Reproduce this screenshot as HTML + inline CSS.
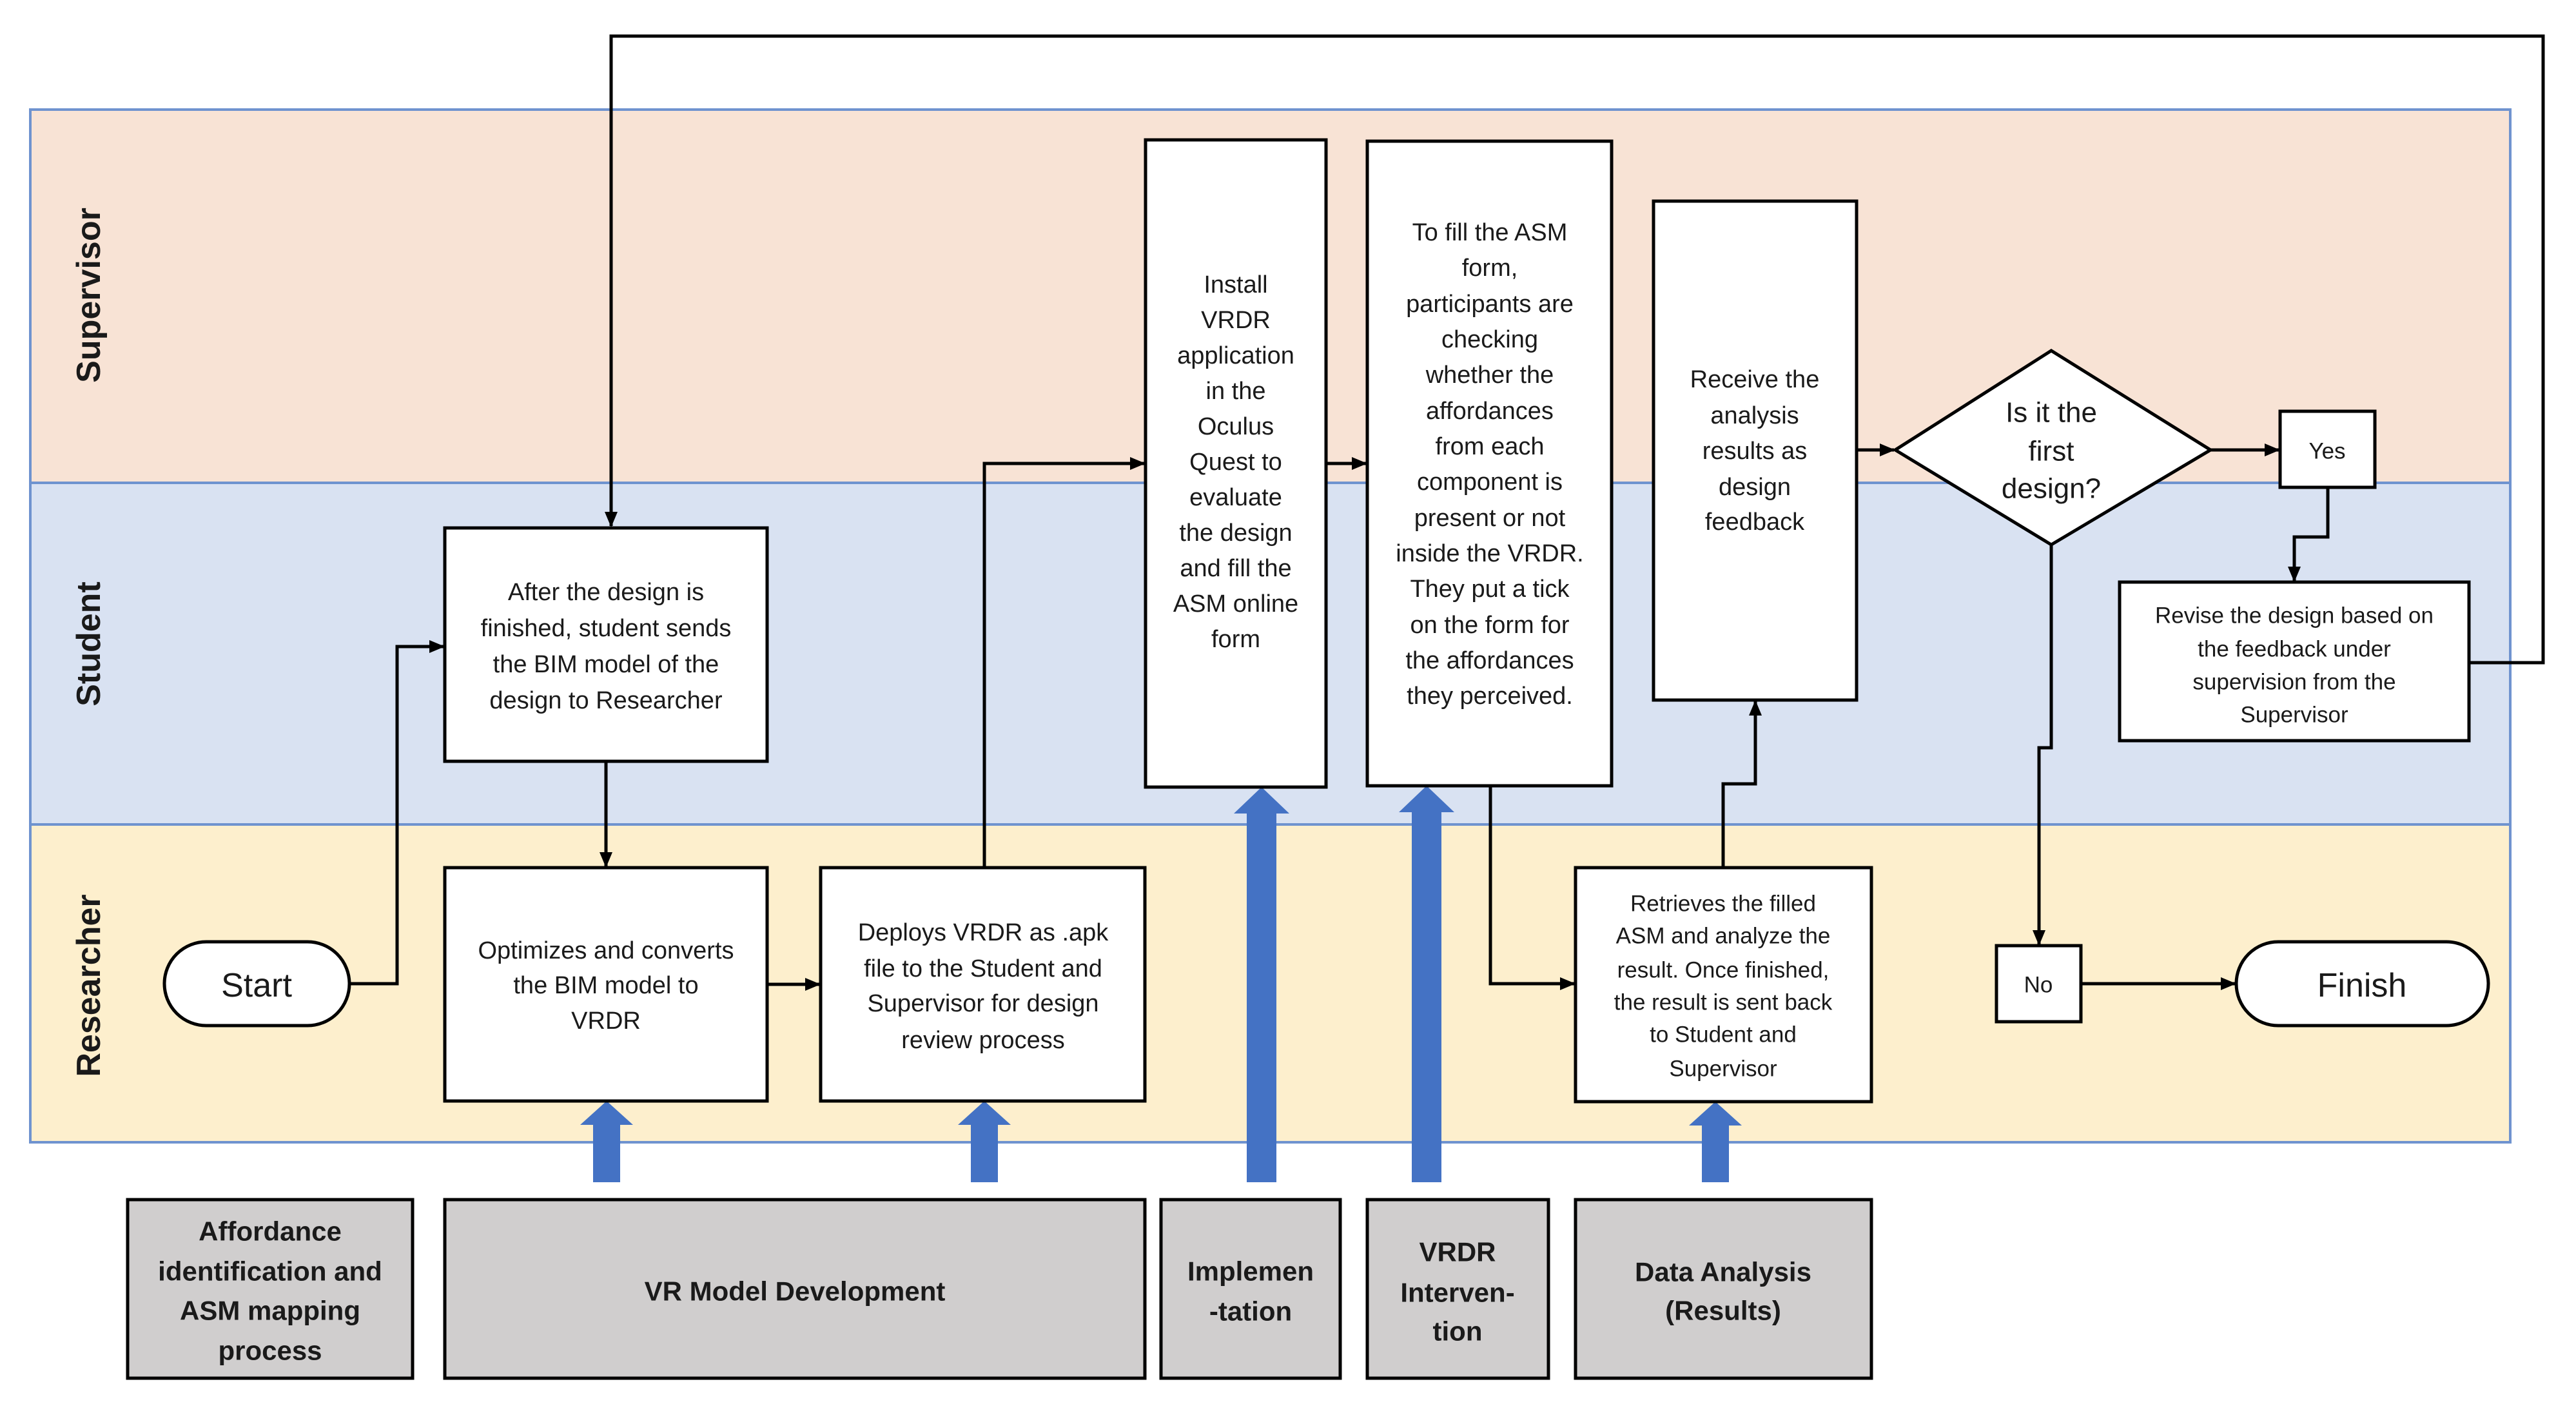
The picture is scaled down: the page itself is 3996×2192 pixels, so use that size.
<!DOCTYPE html>
<html><head><meta charset="utf-8"><style>
html,body{margin:0;padding:0;background:#fff;}
svg{display:block;}
text{font-family:"Liberation Sans",sans-serif;fill:#1a1a1a;dominant-baseline:central;text-anchor:middle;}
.t{font-size:38px;}
.s{font-size:35px;}
.g{font-size:42px;font-weight:bold;}
.lane{font-size:52px;font-weight:bold;}
</style></head><body>
<svg width="3996" height="2192" viewBox="0 0 3996 2192" xmlns="http://www.w3.org/2000/svg">
<defs>
<marker id="a" markerWidth="10" markerHeight="10" refX="9" refY="5" orient="auto" markerUnits="userSpaceOnUse" viewBox="0 0 10 10"><path d="M0,0 L10,5 L0,10 z" fill="#000"/></marker>
<marker id="b" markerWidth="24" markerHeight="24" refX="22" refY="12" orient="auto" markerUnits="userSpaceOnUse" viewBox="0 0 24 24"><path d="M0,2 L24,12 L0,22 z" fill="#000"/></marker>
</defs>
<!-- lanes -->
<rect x="47" y="170" width="3847" height="579" fill="#F8E3D5" stroke="#6F93CF" stroke-width="4"/>
<rect x="47" y="749" width="3847" height="530" fill="#D9E2F2" stroke="#6F93CF" stroke-width="4"/>
<rect x="47" y="1279" width="3847" height="493" fill="#FDEFCD" stroke="#6F93CF" stroke-width="4"/>
<text class="lane" transform="translate(138,458) rotate(-90)">Supervisor</text>
<text class="lane" transform="translate(138,999) rotate(-90)">Student</text>
<text class="lane" transform="translate(138,1529) rotate(-90)">Researcher</text>

<!-- connectors -->
<g fill="none" stroke="#000" stroke-width="5">
<path d="M3830,1028 H3945 V56 H948 V816" marker-end="url(#b)"/>
<path d="M542,1526 H616 V1003 H688" marker-end="url(#b)"/>
<path d="M940,1181 V1344" marker-end="url(#b)"/>
<path d="M1190,1527 H1271" marker-end="url(#b)"/>
<path d="M1527,1346 V719 H1775" marker-end="url(#b)"/>
<path d="M2057,719 H2119" marker-end="url(#b)"/>
<path d="M2312,1219 V1526 H2442" marker-end="url(#b)"/>
<path d="M2673,1346 V1216 H2723 V1088" marker-end="url(#b)"/>
<path d="M2880,698 H2938" marker-end="url(#b)"/>
<path d="M3429,698 H3535" marker-end="url(#b)"/>
<path d="M3611,756 V833 H3559 V901" marker-end="url(#b)"/>
<path d="M3182,845 V1160 H3163 V1465" marker-end="url(#b)"/>
<path d="M3228,1526 H3467" marker-end="url(#b)"/>
</g>

<!-- blue arrows -->
<g fill="#4472C4">
<path d="M920,1834 V1745 H900 L941,1708 L982,1745 H962 V1834 z"/>
<path d="M1506,1834 V1745 H1486 L1527,1708 L1568,1745 H1548 V1834 z"/>
<path d="M1934,1834 V1262 H1914 L1957,1221 L2000,1262 H1980 V1834 z"/>
<path d="M2190,1834 V1260 H2170 L2213,1219 L2256,1260 H2236 V1834 z"/>
<path d="M2640,1834 V1746 H2620 L2661,1709 L2702,1746 H2682 V1834 z"/>
</g>

<!-- boxes -->
<g fill="#fff" stroke="#000" stroke-width="5">
<rect x="690" y="819" width="500" height="362"/>
<rect x="690" y="1346" width="500" height="362"/>
<rect x="1273" y="1346" width="503" height="362"/>
<rect x="1777" y="217" width="280" height="1004"/>
<rect x="2121" y="219" width="379" height="1000"/>
<rect x="2565" y="312" width="315" height="774"/>
<path d="M3182,544 L3429,698 L3182,845 L2940,698 z"/>
<rect x="3537" y="638" width="147" height="118"/>
<rect x="3288" y="903" width="542" height="246"/>
<rect x="2444" y="1346" width="459" height="363"/>
<rect x="3097" y="1467" width="131" height="118"/>
<rect x="255" y="1461" width="287" height="130" rx="65"/>
<rect x="3469" y="1461" width="391" height="130" rx="65"/>
</g>
<g fill="#D0CECE" stroke="#000" stroke-width="5">
<rect x="198" y="1861" width="442" height="277"/>
<rect x="690" y="1861" width="1086" height="277"/>
<rect x="1801" y="1861" width="278" height="277"/>
<rect x="2121" y="1861" width="281" height="277"/>
<rect x="2444" y="1861" width="459" height="277"/>
</g>

<!-- texts -->
<g class="t">
<text x="940" y="919">After the design is</text>
<text x="940" y="975">finished, student sends</text>
<text x="940" y="1031">the BIM model of the</text>
<text x="940" y="1087">design to Researcher</text>

<text x="940" y="1475">Optimizes and converts</text>
<text x="940" y="1529">the BIM model to</text>
<text x="940" y="1584">VRDR</text>

<text x="1525" y="1447">Deploys VRDR as .apk</text>
<text x="1525" y="1503">file to the Student and</text>
<text x="1525" y="1557">Supervisor for design</text>
<text x="1525" y="1614">review process</text>

<text x="1917" y="442">Install</text>
<text x="1917" y="497">VRDR</text>
<text x="1917" y="552">application</text>
<text x="1917" y="607">in the</text>
<text x="1917" y="662">Oculus</text>
<text x="1917" y="717">Quest to</text>
<text x="1917" y="772">evaluate</text>
<text x="1917" y="827">the design</text>
<text x="1917" y="882">and fill the</text>
<text x="1917" y="937">ASM online</text>
<text x="1917" y="992">form</text>

<text x="2311" y="361">To fill the ASM</text>
<text x="2311" y="416">form,</text>
<text x="2311" y="472">participants are</text>
<text x="2311" y="527">checking</text>
<text x="2311" y="582">whether the</text>
<text x="2311" y="638">affordances</text>
<text x="2311" y="693">from each</text>
<text x="2311" y="748">component is</text>
<text x="2311" y="804">present or not</text>
<text x="2311" y="859">inside the VRDR.</text>
<text x="2311" y="914">They put a tick</text>
<text x="2311" y="970">on the form for</text>
<text x="2311" y="1025">the affordances</text>
<text x="2311" y="1080">they perceived.</text>

<text x="2722" y="589">Receive the</text>
<text x="2722" y="645">analysis</text>
<text x="2722" y="700">results as</text>
<text x="2722" y="756">design</text>
<text x="2722" y="810">feedback</text>
</g>
<g style="font-size:44px">
<text x="3182" y="640">Is it the</text>
<text x="3182" y="700">first</text>
<text x="3182" y="758">design?</text>
</g>
<g class="s">
<text x="3610" y="700">Yes</text>
<text x="3162" y="1528">No</text>
<text x="3559" y="955">Revise the design based on</text>
<text x="3559" y="1007">the feedback under</text>
<text x="3559" y="1058">supervision from the</text>
<text x="3559" y="1109">Supervisor</text>
<text x="2673" y="1402">Retrieves the filled</text>
<text x="2673" y="1452">ASM and analyze the</text>
<text x="2673" y="1505">result. Once finished,</text>
<text x="2673" y="1555">the result is sent back</text>
<text x="2673" y="1605">to Student and</text>
<text x="2673" y="1658">Supervisor</text>
</g>
<g style="font-size:52px">
<text x="398" y="1529">Start</text>
<text x="3664" y="1529">Finish</text>
</g>
<g class="g">
<text x="419" y="1910">Affordance</text>
<text x="419" y="1972">identification and</text>
<text x="419" y="2033">ASM mapping</text>
<text x="419" y="2095">process</text>
<text x="1233" y="2003">VR Model Development</text>
<text x="1940" y="1972">Implemen</text>
<text x="1940" y="2034">-tation</text>
<text x="2261" y="1942">VRDR</text>
<text x="2261" y="2005">Interven-</text>
<text x="2261" y="2065">tion</text>
<text x="2673" y="1973">Data Analysis</text>
<text x="2673" y="2033">(Results)</text>
</g>
</svg>
</body></html>
